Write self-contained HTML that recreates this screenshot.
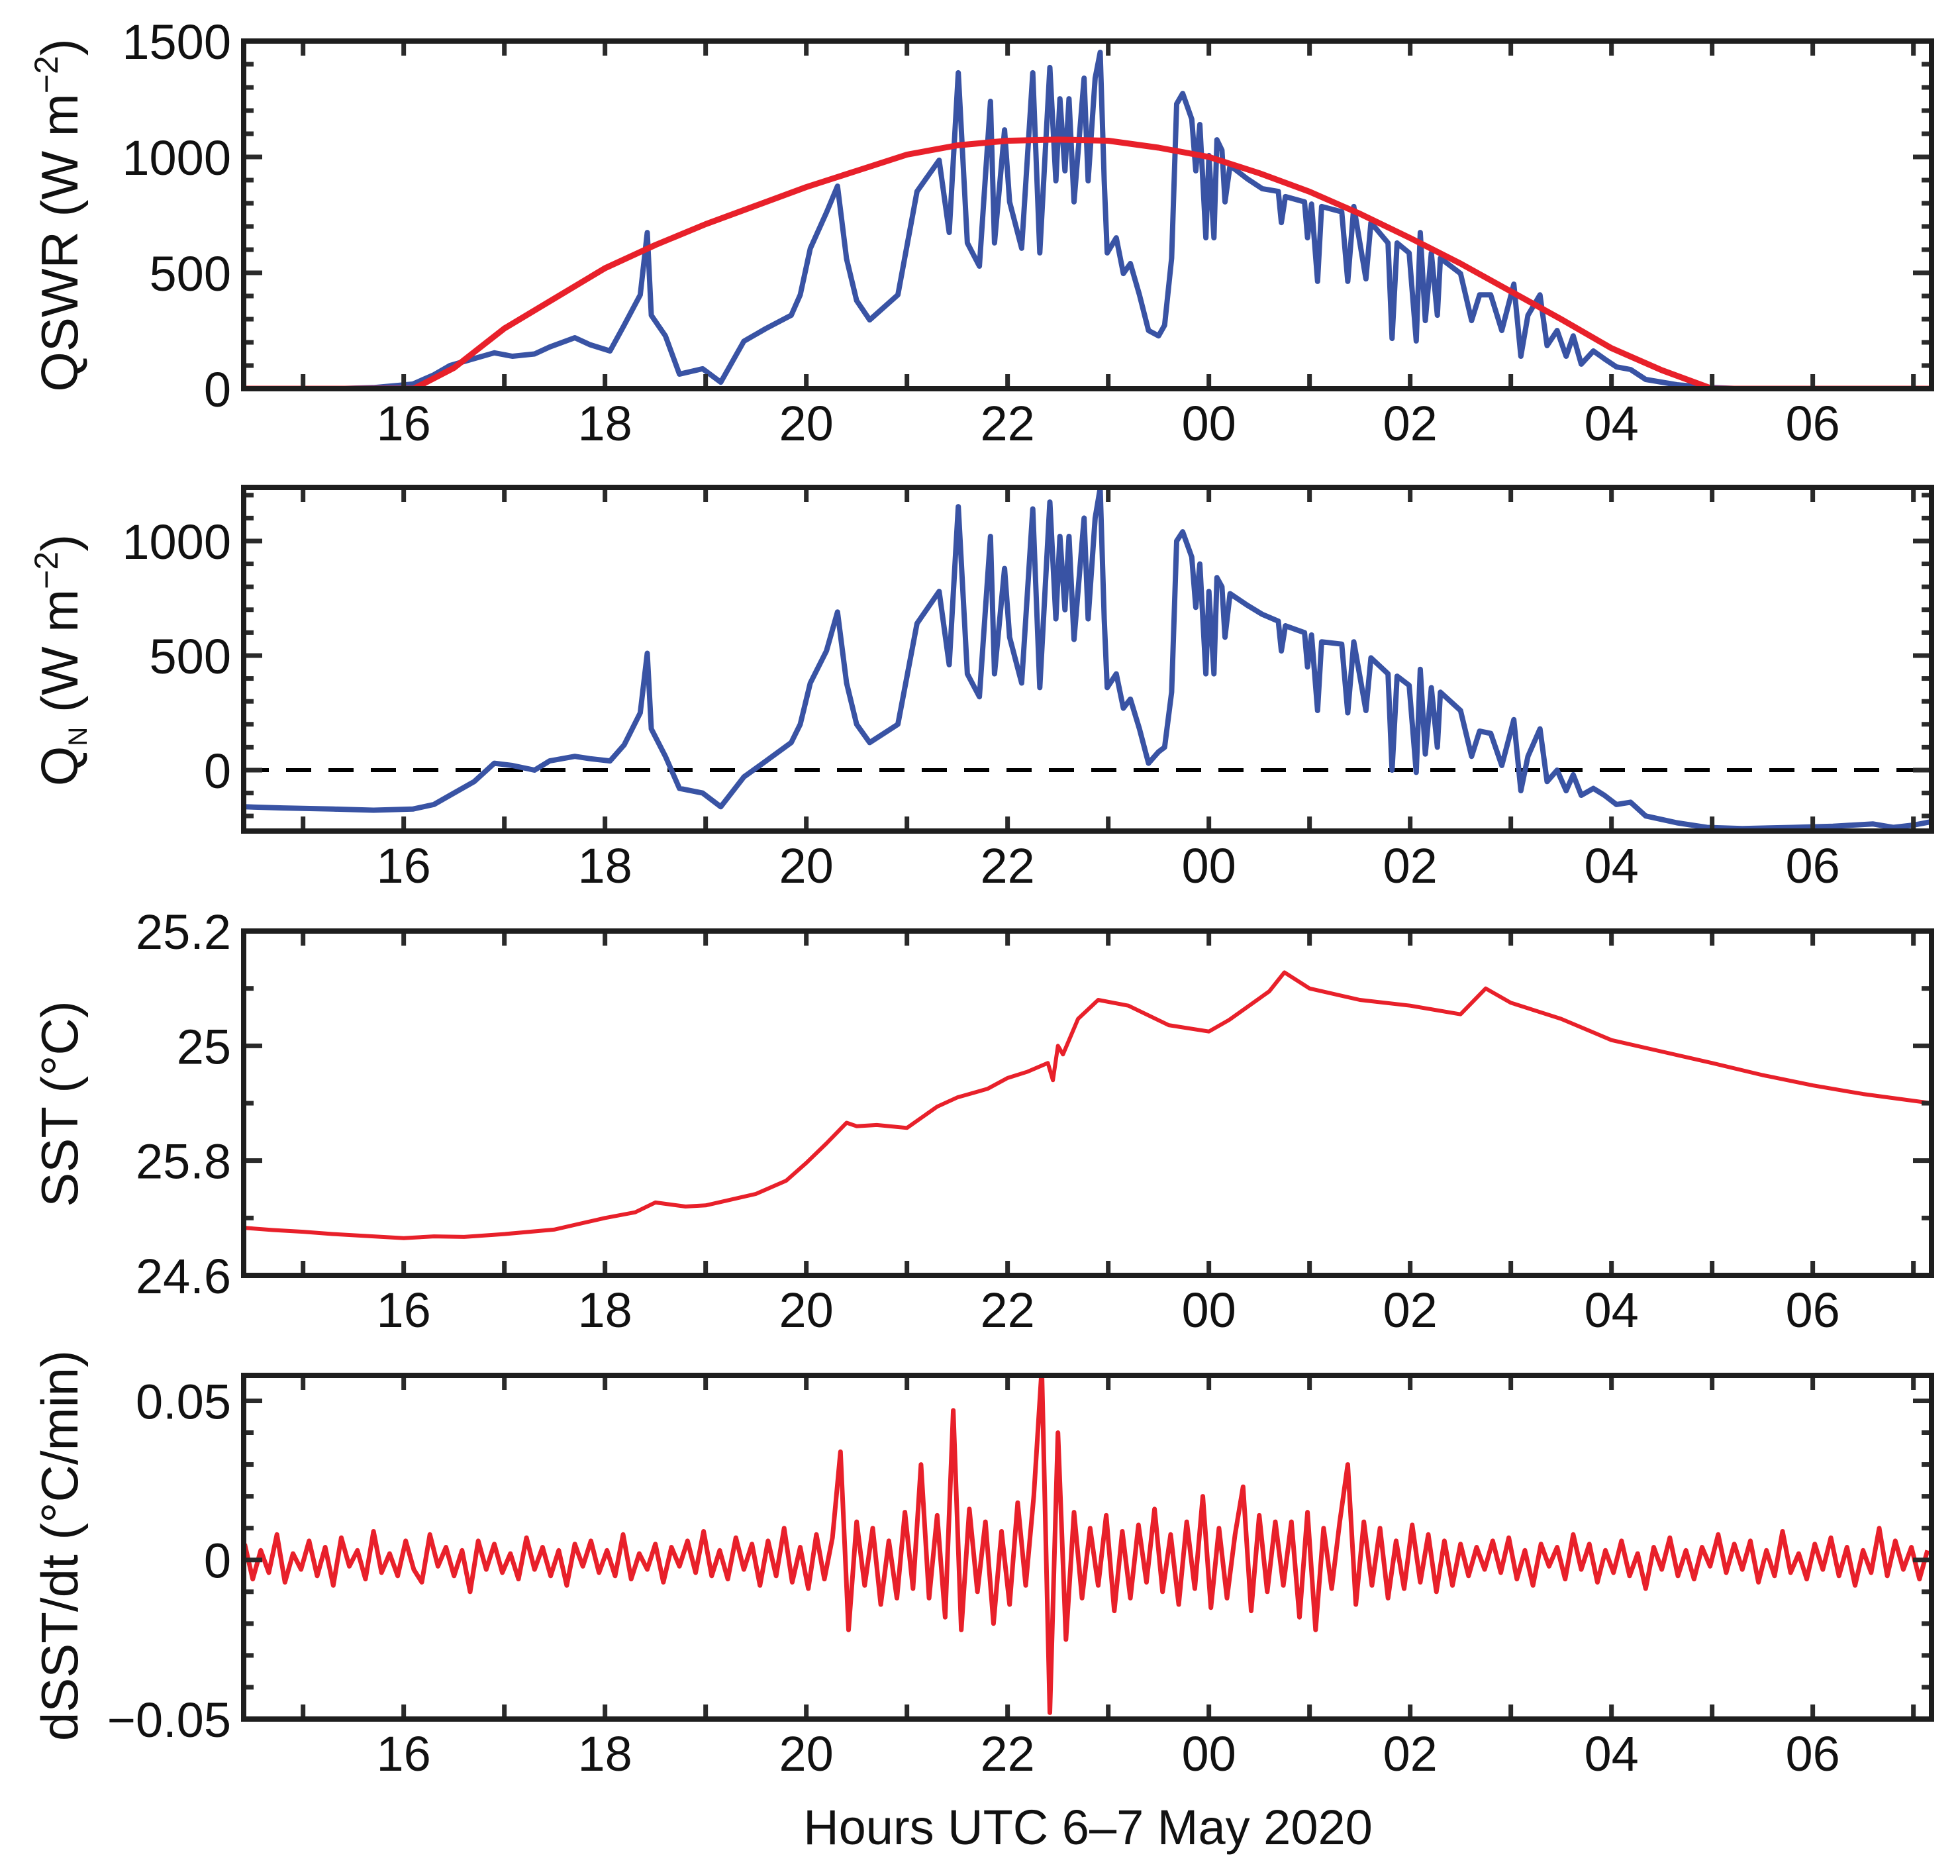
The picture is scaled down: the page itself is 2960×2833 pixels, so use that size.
<!DOCTYPE html>
<html lang="en">
<head>
<meta charset="utf-8">
<title>QSWR, QN, SST and dSST/dt, 6–7 May 2020</title>
<style>
  html,body{margin:0;padding:0;background:#fff;}
  svg{display:block;font-family:"Liberation Sans","DejaVu Sans",sans-serif;}
</style>
</head>
<body>
<svg id="chart" xmlns="http://www.w3.org/2000/svg" width="2960" height="2833" viewBox="0 0 2960 2833">
  <rect x="0" y="0" width="2960" height="2833" fill="#fff"/>
  <g id="layer"></g>
  <text x="1643" y="2785" font-size="74" text-anchor="middle" fill="#111">Hours UTC 6–7 May 2020</text>
</svg>
<script>
// ---------- data ----------
const xTickHours = [16, 18, 20, 22, 24, 26, 28, 30];
const xTickLabels = ["16", "18", "20", "22", "00", "02", "04", "06"];

const qswrHours = [14.41,14.8,15.3,15.7,16.09,16.3,16.46,16.7,16.9,17.08,17.3,17.45,17.7,17.85,18.05,18.19,18.35,18.42,18.46,18.6,18.74,18.97,19.15,19.38,19.6,19.85,19.94,20.04,20.2,20.31,20.4,20.5,20.63,20.91,21.1,21.32,21.42,21.51,21.6,21.72,21.83,21.87,21.97,22.02,22.14,22.25,22.32,22.42,22.48,22.52,22.57,22.61,22.66,22.76,22.8,22.87,22.92,22.96,22.99,23.08,23.15,23.22,23.31,23.4,23.5,23.56,23.63,23.68,23.74,23.83,23.87,23.91,23.97,24.0,24.05,24.08,24.13,24.16,24.21,24.38,24.53,24.69,24.72,24.76,24.95,24.98,25.02,25.08,25.12,25.32,25.38,25.44,25.56,25.61,25.78,25.82,25.87,25.99,26.06,26.1,26.15,26.21,26.27,26.3,26.5,26.61,26.69,26.8,26.91,27.03,27.1,27.17,27.29,27.36,27.46,27.55,27.62,27.7,27.82,27.93,28.05,28.19,28.34,28.65,28.95,29.3,29.8,30.2,30.6,30.8,31.0,31.18];
const qswrValues = [0,0,0,5,20,60,100,130,155,140,150,180,220,190,163,274,405,674,317,228,63,86,28,205,260,317,405,605,760,874,560,380,297,405,851,986,674,1363,629,529,1240,629,1117,806,606,1363,586,1386,897,1251,940,1251,806,1340,897,1340,1451,897,586,651,497,540,405,251,228,274,563,1229,1274,1163,940,1140,651,1006,651,1074,1029,806,963,906,863,851,717,829,806,651,797,463,786,763,463,786,474,717,629,217,629,586,206,674,294,586,317,563,497,294,405,405,251,451,140,317,405,186,251,140,228,106,163,129,94,83,40,17,6,0,0,0,0,0,0,0];
const qnValues = [-160,-165,-170,-175,-170,-150,-110,-50,30,20,0,40,60,50,40,110,250,510,180,60,-80,-100,-160,-30,40,120,200,380,520,690,380,200,120,200,640,780,460,1150,420,320,1020,420,880,580,380,1140,360,1170,660,1020,700,1020,570,1100,660,1100,1230,660,360,420,270,310,180,30,80,100,340,1000,1040,930,710,900,420,780,420,840,800,580,770,720,680,650,520,630,600,450,590,260,560,550,250,560,260,490,420,0,410,370,-10,440,70,360,100,340,260,60,170,160,20,220,-90,60,180,-50,0,-90,-20,-110,-80,-110,-150,-140,-200,-230,-250,-255,-250,-245,-235,-250,-240,-225];

const clearHours = [14.41,16.1,16.5,17,17.5,18,18.5,19,19.5,20,20.5,21,21.5,22,22.5,23,23.5,24,24.5,25,25.5,26,26.5,27,27.5,28,28.5,29,31.18];
const clearValues = [0,0,90,260,390,520,620,710,790,870,940,1010,1050,1070,1075,1070,1040,1000,930,850,755,650,540,420,300,175,80,0,0];

const sstHours = [14.41,14.7,15,15.3,15.6,16,16.3,16.6,17,17.5,18,18.3,18.5,18.8,19,19.5,19.8,20,20.2,20.4,20.5,20.7,21,21.3,21.5,21.8,22,22.2,22.4,22.45,22.5,22.55,22.7,22.9,23.2,23.6,24,24.2,24.4,24.6,24.75,25,25.5,26,26.5,26.75,27,27.5,28,28.5,29,29.5,30,30.5,31.18];
const sstValues = [24.683,24.679,24.676,24.672,24.669,24.665,24.668,24.667,24.672,24.68,24.70,24.71,24.727,24.72,24.722,24.742,24.765,24.796,24.83,24.866,24.86,24.862,24.857,24.894,24.91,24.925,24.944,24.955,24.97,24.94,25.0,24.985,25.047,25.08,25.07,25.036,25.025,25.045,25.07,25.095,25.128,25.10,25.08,25.07,25.055,25.10,25.075,25.047,25.01,24.99,24.97,24.949,24.931,24.916,24.90];

const dsstStartHour = 14.42;
const dsstStepHour = 0.08;
const dsstValues = [
  0.005,-0.006,0.003,-0.004,0.008,-0.007,0.002,-0.003,0.006,-0.005,0.004,-0.008,0.007,-0.002,0.003,-0.006,0.009,-0.004,0.002,-0.005,0.006,-0.003,-0.007,0.008,-0.002,0.004,-0.005,0.003,-0.010,0.006,-0.003,0.005,-0.004,0.002,-0.006,0.007,-0.003,0.004,-0.005,0.003,-0.008,0.005,-0.002,0.006,-0.004,0.003,-0.005,0.008,-0.006,0.002,-0.003,0.005,-0.007,0.004,-0.002,0.006,-0.004,0.009,-0.005,0.003,-0.006,0.007,-0.003,0.005,
  -0.008,0.006,-0.005,0.010,-0.007,0.004,-0.009,0.008,-0.006,
  0.007,0.034,-0.022,0.012,-0.008,0.010,-0.014,0.006,-0.012,0.015,-0.009,0.030,-0.012,0.014,-0.018,0.047,-0.022,0.016,-0.010,0.012,-0.020,0.009,-0.014,0.018,-0.008,0.020,0.060,-0.048,0.040,-0.025,0.015,-0.012,0.010,-0.008,0.014,-0.016,0.009,-0.012,0.011,-0.007,0.016,-0.010,0.008,-0.014,0.012,-0.009,0.020,-0.015,0.010,-0.012,0.008,0.023,-0.016,0.014,-0.010,0.012,-0.008,0.012,-0.018,0.015,-0.022,0.010,-0.009,0.012,0.030,-0.014,0.012,-0.008,0.010,-0.012,0.006,-0.009,0.011,-0.007,0.008,-0.010,0.006,-0.008,0.005,
  -0.005,0.004,-0.003,0.006,-0.004,0.007,-0.006,0.003,-0.008,0.005,-0.002,0.004,-0.006,0.008,-0.003,0.005,-0.007,0.003,-0.004,0.006,-0.005,0.002,-0.009,0.004,-0.003,0.007,-0.005,0.003,-0.006,0.004,-0.002,0.008,-0.004,0.005,-0.003,0.006,-0.007,0.003,-0.005,0.009,-0.004,0.002,-0.006,0.005,-0.003,0.007,-0.005,0.004,-0.008,0.003,-0.004,0.010,-0.005,0.006,-0.003,0.004,-0.006,0.003
];

const p1TickValues = [0, 500, 1000, 1500];
const p1TickLabels = ["0", "500", "1000", "1500"];
const p2TickValues = [0, 500, 1000];
const p2TickLabels = ["0", "500", "1000"];
const p3TickValues = [24.6, 24.8, 25.0, 25.2];
const p3TickLabels = ["24.6", "25.8", "25", "25.2"];
const p4TickValues = [-0.05, 0, 0.05];
const p4TickLabels = ["\u22120.05", "0", "0.05"];

// ---------- layout ----------
const NS = "http://www.w3.org/2000/svg";
const layer = document.getElementById("layer");
const X0 = 368, X1 = 2917, H0 = 14.41, H1 = 31.18;
function xScale(h){ return X0 + (h - H0) * (X1 - X0) / (H1 - H0); }

const panels = [
  {key:"qswr", top:62,  bottom:587,  ymin:0,     ymax:1500,  minorStart:0,    minorEnd:1500, minorStep:100, ticks:p1TickValues, labels:p1TickLabels},
  {key:"qn",   top:736, bottom:1255, ymin:-266,  ymax:1234,  minorStart:-200, minorEnd:1200, minorStep:100, ticks:p2TickValues, labels:p2TickLabels},
  {key:"sst",  top:1406,bottom:1926, ymin:24.6,  ymax:25.2,  minorStart:24.6, minorEnd:25.2, minorStep:0.1, ticks:p3TickValues, labels:p3TickLabels},
  {key:"dsst", top:2077,bottom:2596, ymin:-0.05, ymax:0.058, minorStart:-0.05,minorEnd:0.05, minorStep:0.01,ticks:p4TickValues, labels:p4TickLabels}
];
function yScaleFor(p){ return v => p.bottom - (v - p.ymin) * (p.bottom - p.top) / (p.ymax - p.ymin); }

function mk(tag, attrs, parent){
  const el = document.createElementNS(NS, tag);
  for (const k in attrs) el.setAttribute(k, attrs[k]);
  (parent || layer).appendChild(el);
  return el;
}

const defs = mk("defs", {});
panels.forEach(p => {
  const cp = mk("clipPath", {id: "clip-" + p.key}, defs);
  mk("rect", {x: X0, y: p.top, width: X1 - X0, height: p.bottom - p.top}, cp);
});

function linePath(hours, values, ys){
  let d = "";
  for (let i = 0; i < values.length; i++){
    d += (i ? "L" : "M") + xScale(hours[i]).toFixed(1) + "," + ys(values[i]).toFixed(1);
  }
  return d;
}

panels.forEach((p) => {
  const ys = yScaleFor(p);
  const g = mk("g", {});
  
  

  const sg = mk("g", {"clip-path": "url(#clip-" + p.key + ")"}, g);
  
  
  if (p.key === "qswr"){
    const b = mk("path", {d: linePath(qswrHours, qswrValues, ys), fill:"none", stroke:"#3953a4", "stroke-width":8, "stroke-linejoin":"round"}, sg);
    
    
    const r = mk("path", {d: linePath(clearHours, clearValues, ys), fill:"none", stroke:"#e8202a", "stroke-width":9, "stroke-linejoin":"round"}, sg);
    
    
  } else if (p.key === "qn"){
    const z = mk("line", {x1:X0, x2:X1, y1:ys(0), y2:ys(0), stroke:"#000", "stroke-width":6, "stroke-dasharray":"38 26"}, sg);
    
    
    const b = mk("path", {d: linePath(qswrHours, qnValues, ys), fill:"none", stroke:"#3953a4", "stroke-width":8, "stroke-linejoin":"round"}, sg);
    
    
  } else if (p.key === "sst"){
    const r = mk("path", {d: linePath(sstHours, sstValues, ys), fill:"none", stroke:"#e8202a", "stroke-width":6, "stroke-linejoin":"round"}, sg);
    
    
  } else {
    const hrs = dsstValues.map((v, i) => dsstStartHour + i * dsstStepHour);
    const r = mk("path", {d: linePath(hrs, dsstValues, ys), fill:"none", stroke:"#e8202a", "stroke-width":7, "stroke-linejoin":"round"}, sg);
    
    
  }

  const tg = mk("g", {stroke:"#2a2a2a", "stroke-width":7}, g);
  
  
  for (let h = 15; h <= 31; h++){
    const x = xScale(h);
    mk("line", {x1:x, x2:x, y1:p.top, y2:p.top + 22}, tg);
    mk("line", {x1:x, x2:x, y1:p.bottom, y2:p.bottom - 22}, tg);
  }
  const nMinor = Math.round((p.minorEnd - p.minorStart) / p.minorStep);
  for (let k = 0; k <= nMinor; k++){
    const v = p.minorStart + k * p.minorStep;
    const isMajor = p.ticks.some(t => Math.abs(t - v) < p.minorStep / 10);
    const len = isMajor ? 28 : 15;
    const y = ys(v);
    mk("line", {x1:X0, x2:X0 + len, y1:y, y2:y}, tg);
    mk("line", {x1:X1, x2:X1 - len, y1:y, y2:y}, tg);
  }

  const fr = mk("rect", {x:X0, y:p.top, width:X1 - X0, height:p.bottom - p.top, fill:"none", stroke:"#1e1e1e", "stroke-width":8}, g);
  
  

  p.ticks.forEach((v, i) => {
    const t = mk("text", {x:349, y:ys(v) + 27, "font-size":74, "text-anchor":"end", fill:"#111"}, g);
    t.textContent = p.labels[i];
    
    
  });

  xTickHours.forEach((h, i) => {
    const t = mk("text", {x:xScale(h), y:p.bottom + 78, "font-size":74, "text-anchor":"middle", fill:"#111"}, g);
    t.textContent = xTickLabels[i];
    
    
  });
});

function yTitle(name, cy, parts){
  const t = mk("text", {x:0, y:0, "font-size":78, "text-anchor":"middle", fill:"#111",
    transform:"translate(117," + cy + ") rotate(-90)"});
  
  
  parts.forEach(pt => {
    const s = document.createElementNS(NS, "tspan");
    s.textContent = pt.t;
    if (pt.sup){ s.setAttribute("font-size", "50"); s.setAttribute("dy", "-30"); }
    if (pt.sub){ s.setAttribute("font-size", "40"); s.setAttribute("dy", "14"); }
    if (pt.back){ s.setAttribute("dy", pt.back); }
    t.appendChild(s);
  });
}
yTitle("qswr-y-axis-title", 325, [{t:"QSWR (W m"},{t:"\u22122", sup:true},{t:")", back:"30"}]);
yTitle("qn-y-axis-title", 997, [{t:"Q"},{t:"N", sub:true},{t:" (W m", back:"-14"},{t:"\u22122", sup:true},{t:")", back:"30"}]);
yTitle("sst-y-axis-title", 1667, [{t:"SST (\u00B0C)"}]);
yTitle("dsst-y-axis-title", 2334, [{t:"dSST/dt (\u00B0C/min)"}]);
</script>
</body>
</html>
